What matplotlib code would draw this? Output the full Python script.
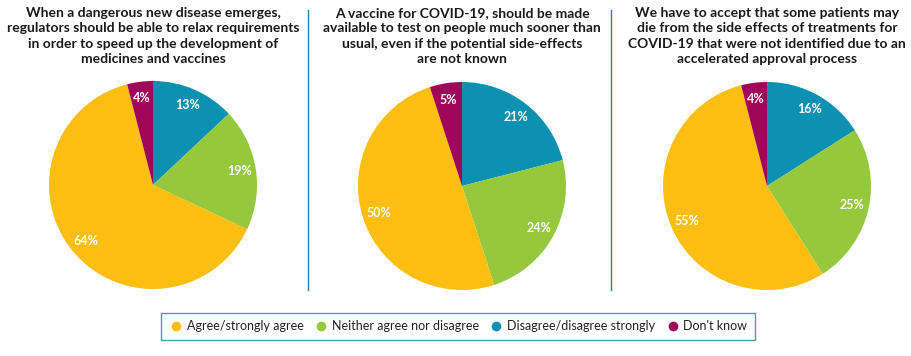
import matplotlib
matplotlib.use("Agg")
import matplotlib.pyplot as plt
from matplotlib.lines import Line2D

categories = ["Disagree/disagree strongly", "Neither agree nor disagree",
              "Agree/strongly agree", "Don't know"]
legend_order = ["Agree/strongly agree", "Neither agree nor disagree",
                "Disagree/disagree strongly", "Don't know"]
colors = {"Agree/strongly agree": "#FDBE12",
          "Neither agree nor disagree": "#95C83D",
          "Disagree/disagree strongly": "#0D91B2",
          "Don't know": "#A0065A"}

titles = [
    "When a dangerous new disease emerges,\nregulators should be able to relax requirements\n"
    "in order to speed up the development of\nmedicines and vaccines",
    "A vaccine for COVID-19, should be made\navailable to test on people much sooner than\n"
    "usual, even if the potential side-effects\nare not known",
    "We have to accept that some patients may\ndie from the side effects of treatments for\n"
    "COVID-19 that were not identified due to an\naccelerated approval process",
]
q1 = [13, 19, 64, 4]
q2 = [21, 24, 50, 5]
q3 = [16, 25, 55, 4]

W, H = 912, 356
plt.rcParams['font.family'] = ['Lato', 'DejaVu Sans']
fig = plt.figure(figsize=(W / 100, H / 100), dpi=100)

# pie centres / radius in pixels
centres = [(153, 185), (462, 186), (767, 186)]
r = 104

for vals, title, (cx, cy) in zip([q1, q2, q3], titles, centres):
    ax = fig.add_axes([(cx - r) / W, (H - cy - r) / H, 2 * r / W, 2 * r / H])
    wedges, texts, autotexts = ax.pie(
        vals, colors=[colors[c] for c in categories], startangle=90,
        counterclock=False, autopct='%.0f%%', pctdistance=0.84,
        wedgeprops=dict(linewidth=0),
        textprops=dict(color="white", fontweight="bold", fontsize=9))
    ax.set_xlim(-1, 1)
    ax.set_ylim(-1, 1)
    ax.set_aspect("equal")
    fig.text(cx / W, 1 - 7 / H, title, ha="center", va="top",
             fontsize=10, fontweight="bold", color="#1a1a1a", linespacing=1.33)

for x in [308, 611]:
    fig.add_artist(Line2D([x / W, x / W], [1 - 10 / H, 1 - 290 / H],
                          color="#2B7E9E", linewidth=1))

handles = [Line2D([], [], marker="o", linestyle="", markersize=6,
                  markerfacecolor=colors[c], markeredgecolor=colors[c]) for c in legend_order]
leg = fig.legend(handles, legend_order, loc="center", bbox_to_anchor=(458 / W, 1 - 326 / H),
                 ncol=4, fontsize=9, frameon=True, fancybox=False, handletextpad=0.25,
                 columnspacing=0.8, borderpad=0.6, handlelength=1.2)
leg.get_frame().set_edgecolor("#2B7E9E")
leg.get_frame().set_linewidth(1)
for t in leg.get_texts():
    t.set_color("#222222")

fig.savefig("out.png", dpi=100, facecolor="white")
